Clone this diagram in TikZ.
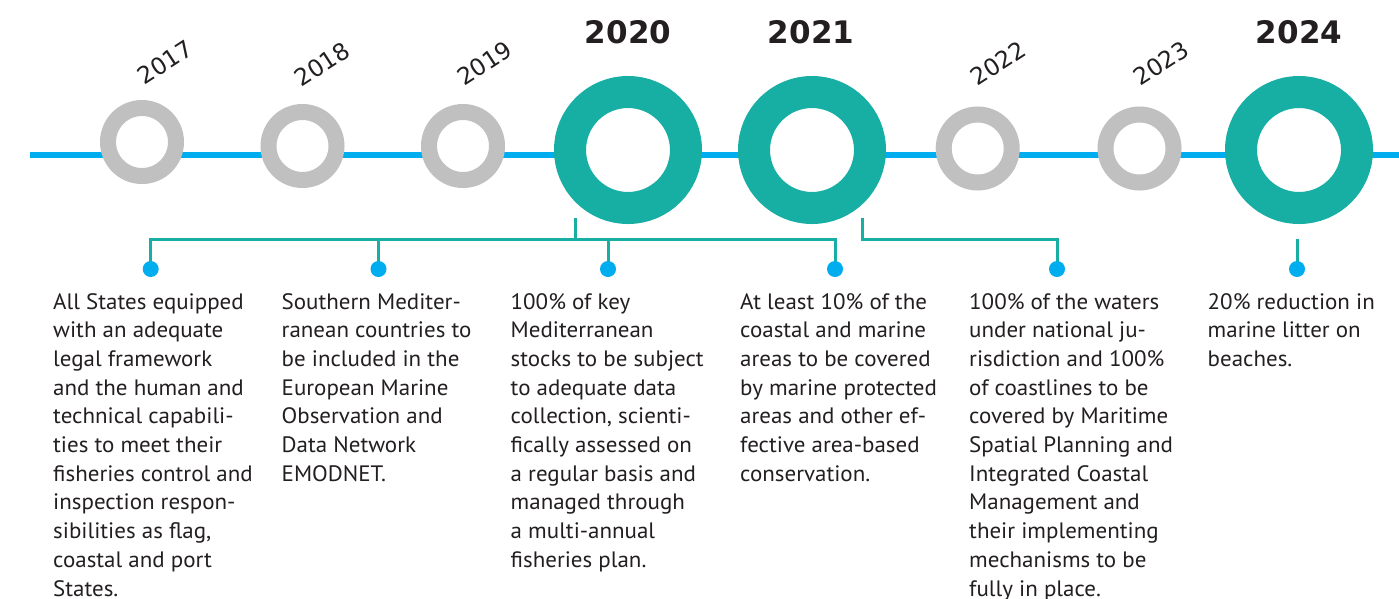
\documentclass[tikz,border=0pt]{standalone}
\usepackage{fontspec}
\setmainfont{PT Sans}[FakeStretch=1.03]
\newfontfamily\yearfont{DejaVu Sans}
\definecolor{tealc}{RGB}{23,175,164}
\definecolor{grayc}{RGB}{192,192,192}
\definecolor{cyanc}{RGB}{0,174,239}
\definecolor{txt}{RGB}{35,31,32}
\tikzset{
  tline/.style={draw=cyanc, line width=6pt},
  smallring/.style={circle, draw=grayc, fill=white, line width=16pt, minimum size=68pt, inner sep=0pt},
  bigring/.style={circle, draw=tealc, fill=white, line width=32pt, minimum size=116pt, inner sep=0pt},
  bigyear/.style={font=\yearfont\bfseries\fontsize{31}{31}\selectfont, text=txt, inner sep=0pt},
  smallyear/.style={font=\yearfont\fontsize{23.5}{23.5}\selectfont, text=txt, inner sep=0pt, rotate=33},
  conn/.style={draw=tealc, line width=3pt},
  dot/.style={circle, fill=cyanc, minimum size=16pt, inner sep=0pt},
  desc/.style={font=\fontsize{22.3}{28.7}\selectfont, text=txt, align=left, anchor=base west, inner sep=0pt}
}
\begin{document}
\begin{tikzpicture}[x=1pt,y=-1pt]
\useasboundingbox (0,0) rectangle (1399,598);
\fill[white] (0,0) rectangle (1399,598);
% timeline
\coordinate (ls) at (30,155);
\coordinate (le) at (1399,155);
\draw[tline] (ls) -- (le);
% rings
\node[smallring] (r2017) at (142,142) {};
\node[smallring] (r2018) at (302.5,146) {};
\node[smallring] (r2019) at (463,146) {};
\node[bigring] (r2020) at (628,150) {};
\node[bigring] (r2021) at (812,150) {};
\node[smallring] (r2022) at (977.7,148.5) {};
\node[smallring] (r2023) at (1139.5,148.5) {};
\node[bigring] (r2024) at (1299,150) {};
% year labels
\node[smallyear] (y2017) at (165,62) {2017};
\node[smallyear] (y2018) at (322,64) {2018};
\node[smallyear] (y2019) at (484.5,63) {2019};
\node[bigyear] (y2020) at (628,32) {2020};
\node[bigyear] (y2021) at (811,32) {2021};
\node[smallyear] (y2022) at (998,63) {2022};
\node[smallyear] (y2023) at (1161,63) {2023};
\node[bigyear] (y2024) at (1299,32) {2024};
% connector anchors
\coordinate (b1) at (575,218);
\coordinate (h1) at (575,239);
\coordinate (b2) at (862.5,218);
\coordinate (h2) at (862.5,239);
\coordinate (b3) at (1297,239);
\coordinate (p1) at (150.7,269);
\coordinate (p2) at (378.5,269);
\coordinate (p3) at (608,269);
\coordinate (p4) at (835,269);
\coordinate (p5) at (1057,269);
\coordinate (p6) at (1297,269);
% connectors
\draw[conn] (b1) -- (h1);
\draw[conn] (p1) |- (p4 |- h1) -- (p4);
\draw[conn] (p2) -- (p2 |- h1);
\draw[conn] (p3) -- (p3 |- h1);
\draw[conn] (b2) -- (h2) -| (p5);
\draw[conn] (b3) -- (p6);
% dots
\node[dot] (d1) at (p1) {};
\node[dot] (d2) at (p2) {};
\node[dot] (d3) at (p3) {};
\node[dot] (d4) at (p4) {};
\node[dot] (d5) at (p5) {};
\node[dot] (d6) at (p6) {};
% descriptions (anchored at the baseline of their last line)
\node[desc] (t1) at (53,596) {All States equipped\\with an adequate\\legal framework\\and the human and\\technical capabili-\\ties to meet their\\fisheries control and\\inspection respon-\\sibilities as flag,\\coastal and port\\States.};
\node[desc] (t2) at (281.5,481.2) {Southern Mediter-\\ranean countries to\\be included in the\\European Marine\\Observation and\\Data Network\\EMODNET.};
\node[desc] (t3) at (510.5,567.3) {100\% of key\\Mediterranean\\stocks to be subject\\to adequate data\\collection, scienti-\\fically assessed on\\a regular basis and\\managed through\\a multi-annual\\fisheries plan.};
\node[desc] (t4) at (740,481.2) {At least 10\% of the\\coastal and marine\\areas to be covered\\by marine protected\\areas and other ef-\\fective area-based\\conservation.};
\node[desc] (t5) at (969,596) {100\% of the waters\\under national ju-\\risdiction and 100\%\\of coastlines to be\\covered by Maritime\\Spatial Planning and\\Integrated Coastal\\Management and\\their implementing\\mechanisms to be\\fully in place.};
\node[desc] (t6) at (1207.5,366.4) {20\% reduction in\\marine litter on\\beaches.};
\end{tikzpicture}
\end{document}
